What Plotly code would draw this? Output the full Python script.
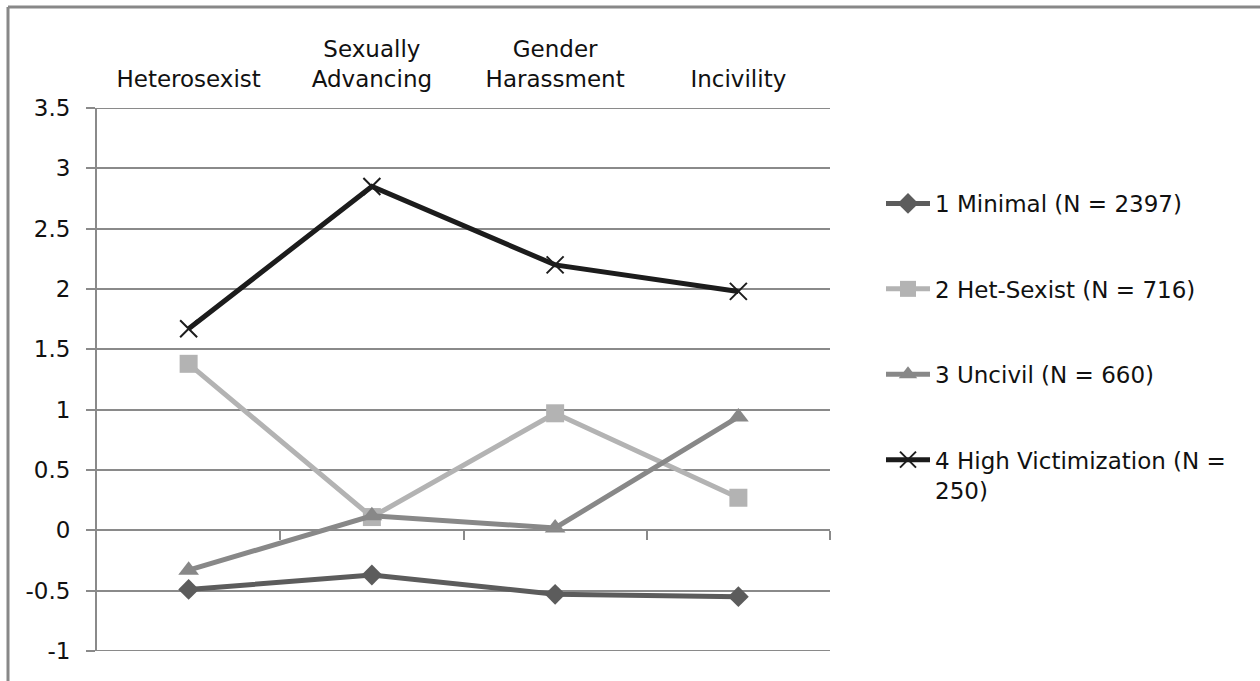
import plotly.graph_objects as go

# Victimization profiles: mean standardized scores per scale
categories = ["Heterosexist", "Sexually<br>Advancing", "Gender<br>Harassment", "Incivility"]
minimal = [-0.49, -0.37, -0.53, -0.55]
het_sexist = [1.38, 0.11, 0.97, 0.27]
uncivil = [-0.33, 0.12, 0.02, 0.94]
high_victim = [1.67, 2.85, 2.20, 1.98]

series_names = [
    "1 Minimal (N = 2397)",
    "2 Het-Sexist (N = 716)",
    "3 Uncivil (N = 660)",
    "4 High Victimization (N =<br>250)",
]

y_tickvals = [-1, -0.5, 0, 0.5, 1, 1.5, 2, 2.5, 3, 3.5]
y_ticktext = ["-1", "-0.5", "0", "0.5", "1", "1.5", "2", "2.5", "3", "3.5"]

FONT = "DejaVu Sans"
FS = 23
TXT = "#111111"
GRID = "#8a8a8a"

W, H = 1260, 681
ML, MR, MT, MB = 97, 430, 108, 30
Y_LO, Y_HI = y_tickvals[0], y_tickvals[-1]

x_idx = list(range(len(categories)))

styles = [
    dict(values=minimal, color="#5c5c5c", symbol="diamond", size=16, lw=0),
    dict(values=het_sexist, color="#b3b3b3", symbol="square", size=18, lw=0),
    dict(values=uncivil, color="#888888", symbol="triangle-up", size=18, lw=0),
    dict(values=high_victim, color="#1c1c1c", symbol="x-thin", size=17, lw=2),
]

fig = go.Figure()
for i, (name, st) in enumerate(zip(series_names, styles)):
    marker = dict(symbol=st["symbol"], size=st["size"], color=st["color"])
    if st["lw"]:
        marker["line"] = dict(color=st["color"], width=st["lw"])
    fig.add_trace(go.Scatter(
        x=x_idx, y=st["values"], name=name, mode="lines+markers",
        line=dict(color=st["color"], width=5),
        marker=marker, legendgroup=f"g{i}", cliponaxis=False,
    ))

# Category axis drawn at y = 0 with ticks between categories
zero_pos = (0 - Y_LO) / (Y_HI - Y_LO)
fig.add_trace(go.Scatter(x=[None], y=[None], xaxis="x2", showlegend=False, hoverinfo="skip"))

# Gridlines on the two edge ticks of the value axis
for v in (Y_LO, Y_HI):
    fig.add_shape(type="line", xref="paper", yref="y", x0=0, x1=1, y0=v, y1=v,
                  line=dict(color=GRID, width=2), layer="below")

fig.update_layout(
    width=W, height=H,
    margin=dict(l=ML, r=MR, t=MT, b=MB),
    paper_bgcolor="white", plot_bgcolor="white",
    font=dict(family=FONT, size=FS, color=TXT),
    xaxis=dict(
        range=[-0.5, 3.5], side="top", tickmode="array",
        tickvals=x_idx, ticktext=categories, showgrid=False,
        zeroline=False, showline=False, ticks="", ticklabelstandoff=15,
        tickfont=dict(family=FONT, size=FS, color=TXT),
    ),
    xaxis2=dict(
        range=[-0.5, 3.5], overlaying="x", anchor="free", position=zero_pos,
        side="bottom", showline=True, linecolor=GRID, linewidth=2,
        ticks="outside", ticklen=9, tickwidth=2, tickcolor=GRID,
        tickmode="array", tickvals=[0.5, 1.5, 2.5, 3.5], showticklabels=False,
        showgrid=False, zeroline=False,
    ),
    yaxis=dict(
        range=[Y_LO, Y_HI], tickmode="array", tickvals=y_tickvals, ticktext=y_ticktext,
        showgrid=True, gridcolor=GRID, gridwidth=2, zeroline=False,
        showline=True, linecolor=GRID, linewidth=2,
        ticks="outside", ticklen=9, tickwidth=2, tickcolor=GRID,
        ticklabelstandoff=11,
        tickfont=dict(family=FONT, size=FS, color=TXT),
    ),
    legend=dict(
        x=(881 - ML) / (W - ML - MR), xanchor="left",
        y=(H - MB - 182) / (H - MT - MB), yanchor="top",
        font=dict(family=FONT, size=FS, color=TXT),
        tracegroupgap=52.5, valign="top", itemwidth=44,
        bgcolor="rgba(0,0,0,0)",
    ),
    showlegend=True,
)

# Chart-area frame (left and top edges)
pw, ph = W - ML - MR, H - MT - MB
fx = (8 - ML) / pw
fy = (H - MB - 7) / ph
fig.add_shape(type="line", xref="paper", yref="paper", x0=fx, x1=fx, y0=-0.2, y1=fy,
              line=dict(color="#888888", width=3))
fig.add_shape(type="line", xref="paper", yref="paper", x0=fx, x1=(W + 10 - ML) / pw, y0=fy, y1=fy,
              line=dict(color="#888888", width=3))

fig.write_html("out.html")
